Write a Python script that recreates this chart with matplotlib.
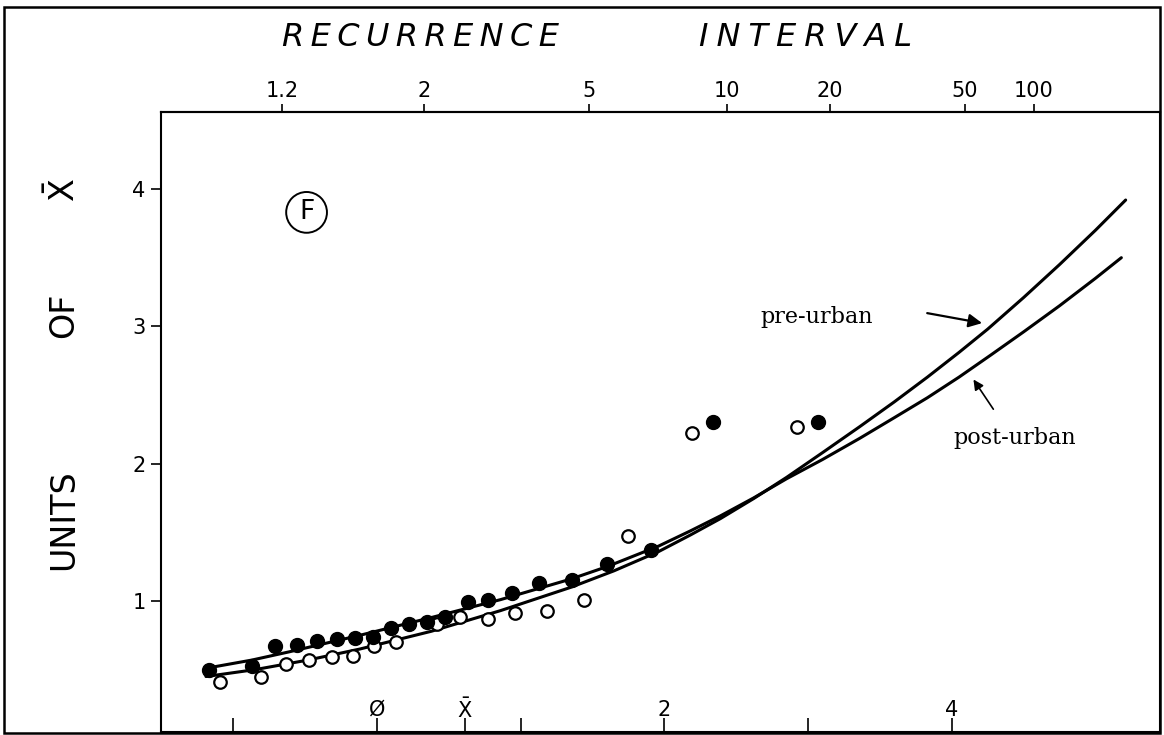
import matplotlib
matplotlib.use("Agg")
import matplotlib.pyplot as plt
from matplotlib.patches import Rectangle
from matplotlib.transforms import blended_transform_factory

# ---------------- data (x = reduced variate, y = units of mean) ----------------
filled_x = [-1.17, -0.87, -0.71, -0.56, -0.42, -0.28, -0.15, -0.03, 0.10, 0.22, 0.35,
            0.47, 0.63, 0.77, 0.94, 1.13, 1.36, 1.60, 1.91, 2.34, 3.07]
filled_y = [0.50, 0.53, 0.67, 0.68, 0.71, 0.72, 0.73, 0.74, 0.80, 0.83, 0.85,
            0.88, 0.99, 1.01, 1.06, 1.13, 1.15, 1.27, 1.37, 2.30, 2.30]

hollow_x = [-1.09, -0.81, -0.63, -0.47, -0.31, -0.17, -0.02, 0.13, 0.42, 0.58, 0.77,
            0.96, 1.18, 1.44, 1.75, 2.19, 2.92]
hollow_y = [0.41, 0.45, 0.54, 0.57, 0.59, 0.60, 0.67, 0.70, 0.83, 0.88, 0.87,
            0.91, 0.93, 1.01, 1.47, 2.22, 2.27]

post_x = [-1.19, -0.87, -0.61, -0.12, 0.38, 0.86, 1.35, 1.60, 1.96, 2.18, 2.39, 2.62,
          2.85, 3.10, 3.36, 3.60, 3.83, 4.05, 4.27, 4.50, 4.75, 5.00, 5.18]
post_y = [0.51, 0.57, 0.63, 0.75, 0.88, 1.01, 1.16, 1.25, 1.40, 1.51, 1.62, 1.75,
          1.89, 2.03, 2.185, 2.335, 2.48, 2.63, 2.79, 2.96, 3.15, 3.35, 3.50]

pre_x = [-1.19, -0.85, -0.48, -0.12, 0.38, 0.86, 1.35, 1.65, 1.96, 2.18, 2.39, 2.62,
         2.85, 3.10, 3.36, 3.60, 3.83, 4.05, 4.25, 4.50, 4.75, 5.00, 5.21]
pre_y = [0.45, 0.50, 0.57, 0.65, 0.78, 0.93, 1.10, 1.22, 1.36, 1.48, 1.60, 1.745,
         1.90, 2.08, 2.27, 2.45, 2.63, 2.81, 2.98, 3.21, 3.45, 3.70, 3.92]

top_tick_pos = [-0.66, 0.33, 1.475, 2.436, 3.15, 4.09, 4.57]
top_tick_labels = ["1.2", "2", "5", "10", "20", "50", "100"]

bottom_tick_pos = [-1, 0, 0.61, 1, 2, 3, 4]
bottom_label_pos = [0, 0.61, 2, 4]
bottom_labels = ["Ø", r"$\bar{\mathrm{X}}$", "2", "4"]

y_ticks = [1, 2, 3, 4]
y_tick_labels = ["1", "2", "3", "4"]

# ---------------- figure ----------------
W, H = 1164, 735
fig = plt.figure(figsize=(W / 100, H / 100), dpi=100)
fig.patch.set_facecolor("white")

ax = fig.add_axes([161 / W, 3 / H, (1160 - 161) / W, (732 - 112) / H])
ax.set_xlim(-1.503, 5.449)
ax.set_ylim(0.046, 4.561)
for s in ax.spines.values():
    s.set_linewidth(1.5)
    s.set_color("black")

# curves
ax.plot(pre_x, pre_y, color="black", lw=2.2, solid_capstyle="round",
        solid_joinstyle="round", zorder=2)
ax.plot(post_x, post_y, color="black", lw=2.2, solid_capstyle="round",
        solid_joinstyle="round", zorder=2)

# points
ax.plot(hollow_x, hollow_y, linestyle="none", marker="o", markersize=9,
        markerfacecolor="white", markeredgecolor="black", markeredgewidth=1.6, zorder=3)
ax.plot(filled_x, filled_y, linestyle="none", marker="o", markersize=10,
        markerfacecolor="black", markeredgecolor="black", zorder=4)

# y axis
ax.set_yticks(y_ticks)
ax.set_yticklabels(y_tick_labels, fontsize=15)
ax.tick_params(axis="y", direction="out", length=7, width=1.2, pad=4)

# bottom axis: ticks inward, labels inside
ax.set_xticks(bottom_tick_pos)
ax.set_xticklabels([])
ax.tick_params(axis="x", direction="in", length=10, width=1.2)
tr = blended_transform_factory(ax.transData, ax.transAxes)
for p, lab in zip(bottom_label_pos, bottom_labels):
    ax.text(p, 0.036, lab, transform=tr, ha="center", va="center", fontsize=15)

# top axis: recurrence interval
top = ax.secondary_xaxis("top")
top.set_xticks(top_tick_pos)
top.set_xticklabels(top_tick_labels, fontsize=15)
top.tick_params(direction="out", length=6, width=1.2, pad=2)
top.spines["top"].set_linewidth(1.5)

# annotations
ax.text(-0.49, 3.83, "F", fontsize=19, ha="center", va="center",
        bbox=dict(boxstyle="circle,pad=0.28", fc="white", ec="black", lw=1.4))
ax.annotate("", xy=(4.23, 3.02), xytext=(3.81, 3.10),
            arrowprops=dict(arrowstyle="-|>", lw=1.6, color="black", mutation_scale=20))
ax.text(3.06, 3.07, "pre-urban", fontsize=16, family="DejaVu Serif",
        ha="center", va="center")
ax.annotate("", xy=(4.14, 2.63), xytext=(4.30, 2.38),
            arrowprops=dict(arrowstyle="-|>", lw=1.2, color="black", mutation_scale=15))
ax.text(4.44, 2.19, "post-urban", fontsize=16, family="DejaVu Serif",
        ha="center", va="center")

# title and y label (figure text)
fig.text(420 / W, 1 - 38 / H, "\u2009".join("RECURRENCE"), fontsize=23, style="italic",
         ha="center", va="center")
fig.text(806 / W, 1 - 38 / H, "\u2005".join("INTERVAL"), fontsize=23, style="italic",
         ha="center", va="center")
fig.text(64 / W, 1 - 520 / H, "UNITS", fontsize=24, rotation=90, ha="center", va="center")
fig.text(64 / W, 1 - 315 / H, "OF", fontsize=24, rotation=90, ha="center", va="center")
fig.text(64 / W, 1 - 190 / H, r"$\bar{\mathrm{X}}$", fontsize=24, rotation=90,
         ha="center", va="center")

# outer frame
fig.patches.append(Rectangle((4 / W, 2 / H), (1160 - 4) / W, (728 - 2) / H,
                             transform=fig.transFigure, fill=False, lw=1.8,
                             edgecolor="black"))

fig.savefig("out.png", dpi=100, facecolor="white")
